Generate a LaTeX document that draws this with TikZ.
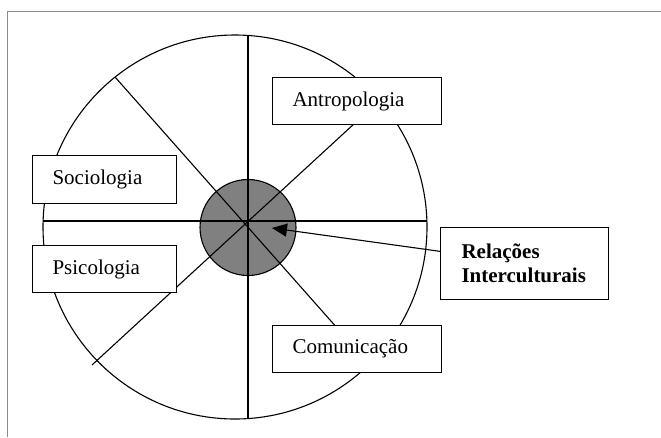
\documentclass[tikz,border=0pt]{standalone}
\usepackage{fontspec}
\setmainfont{Liberation Serif}
\usetikzlibrary{arrows.meta,calc}
\definecolor{hubgray}{RGB}{128,128,128}
\definecolor{framegray}{RGB}{140,140,140}
\begin{document}
\begin{tikzpicture}[x=1pt,y=-1pt,
  spoke/.style={line width=1.1pt,black},
  field/.style={draw,line width=1.1pt,fill=white,anchor=north west,
    inner xsep=20pt,inner ysep=0pt,align=left,
    font=\fontsize{21}{24}\selectfont},
  pointer/.style={line width=1.1pt,-{Triangle[length=15pt,width=13pt]}}]
  \useasboundingbox (0,0) rectangle (661,437);
  % page frame
  \draw[framegray,line width=1pt] (7.5,437) -- (7.5,11) -- (661,11);
  % outer wheel
  \draw[line width=1.1pt] (235,227) circle[radius=192];
  % hub
  \fill[hubgray] (248,227.5) circle[radius=48];
  \draw[line width=1.1pt] (248,227.5) circle[radius=48];
  % spokes
  \coordinate (vt) at (248,35.4);
  \coordinate (vb) at (248,418.6);
  \coordinate (hl) at (43,221);
  \coordinate (hr) at (427,221);
  \coordinate (d1a) at (115,77);
  \coordinate (d1b) at (369,364);
  \coordinate (d2a) at (92,365);
  \coordinate (d2b) at (380,100);
  \draw[spoke] (vt) -- (vb);
  \draw[spoke] (hl) -- (hr);
  \draw[spoke] (d1a) -- (d1b);
  \draw[spoke] (d2a) -- (d2b);
  % disciplines
  \node[field,text width=129pt,minimum height=47pt] (antro) at (272,77) {Antropologia};
  \node[field,text width=104pt,minimum height=48pt] (socio) at (32,155) {Sociologia};
  \node[field,text width=104pt,minimum height=47pt] (psico) at (32,245) {Psicologia};
  \node[field,text width=129pt,minimum height=47pt] (comun) at (272,325) {Comunicação};
  \node[field,inner xsep=21pt,text width=126pt,minimum height=72pt,
        font=\fontsize{21}{24}\selectfont\bfseries] (rel) at (440,227)
        {Relações\\Interculturais};
  % arrow into the hub
  \coordinate (hubpt) at (272,228);
  \draw[pointer] ($(rel.north west)!0.333!(rel.south west)$) -- (hubpt);
\end{tikzpicture}
\end{document}
